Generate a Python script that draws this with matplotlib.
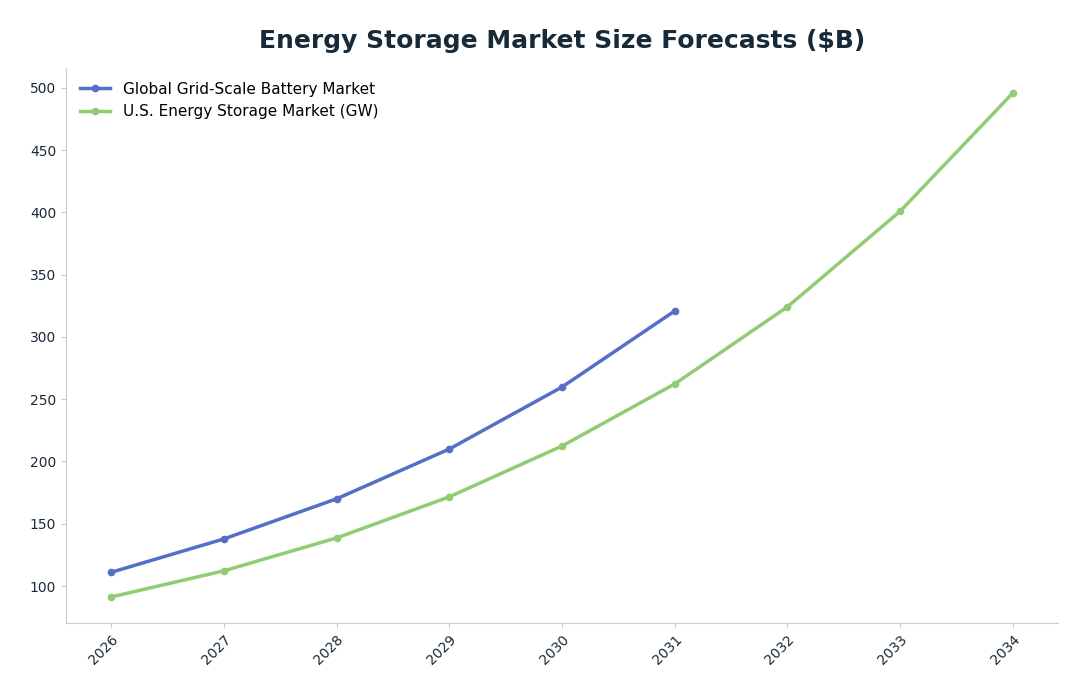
import matplotlib
matplotlib.use("Agg")
import matplotlib.pyplot as plt

years = [2026, 2027, 2028, 2029, 2030, 2031, 2032, 2033, 2034]
global_grid = [111, 137.8, 170, 210, 259.8, 320.9]
us_storage = [91.2, 112.2, 138.6, 171.6, 212.4, 262.3, 324.2, 401, 496]

fig = plt.figure(figsize=(10.88, 6.97), dpi=100)
ax = fig.add_axes([66/1088, 1-623/697, (1058-66)/1088, (623-68)/697])
ax.plot(years[:len(global_grid)], global_grid, color="#5470c6", lw=2.5, marker="o", ms=4.5,
        label="Global Grid-Scale Battery Market")
ax.plot(years, us_storage, color="#91cc75", lw=2.5, marker="o", ms=4.5,
        label="U.S. Energy Storage Market (GW)")
ax.set_xlim(2025.6, 2034.4)
ax.set_ylim(70.3, 516)
ax.set_xticks(years)
ax.set_xticklabels([str(y) for y in years], rotation=45, ha="right", rotation_mode="anchor")
ax.set_yticks(range(100, 501, 50))
for s in ["top", "right"]:
    ax.spines[s].set_visible(False)
for s in ["left", "bottom"]:
    ax.spines[s].set_color("#cccccc")
ax.tick_params(colors="#cccccc", labelcolor="#1a2a3a", labelsize=10)
ax.legend(loc="upper left", frameon=False, fontsize=11)
fig.suptitle("Energy Storage Market Size Forecasts ($B)", x=562/1088, y=1-41/697, va="center",
             fontsize=18, fontweight="bold", color="#172a3a")
fig.savefig("out.png", dpi=100)
